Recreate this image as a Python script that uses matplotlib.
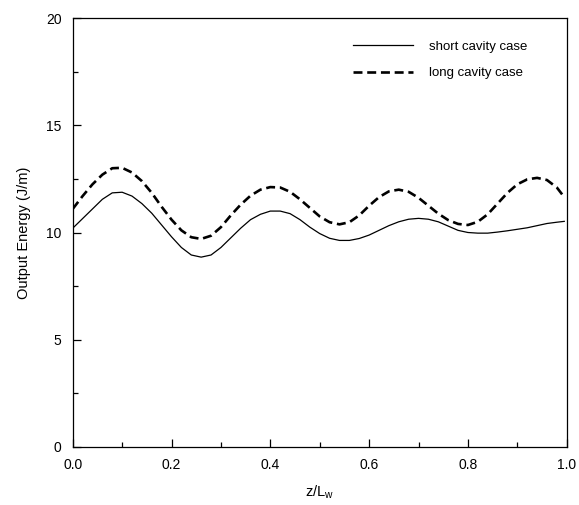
import matplotlib

matplotlib.use("Agg")
import matplotlib.pyplot as plt
from matplotlib.ticker import MultipleLocator

plt.rcParams["font.family"] = ["Liberation Sans", "DejaVu Sans"]

# values, every 0.02 in z/Lw
z = [0.00, 0.02, 0.04, 0.06, 0.08, 0.10, 0.12, 0.14, 0.16, 0.18,
     0.20, 0.22, 0.24, 0.26, 0.28, 0.30, 0.32, 0.34, 0.36, 0.38,
     0.40, 0.42, 0.44, 0.46, 0.48, 0.50, 0.52, 0.54, 0.56, 0.58,
     0.60, 0.62, 0.64, 0.66, 0.68, 0.70, 0.72, 0.74, 0.76, 0.78,
     0.80, 0.82, 0.84, 0.86, 0.88, 0.90, 0.92, 0.94, 0.96, 0.98, 0.995]
e_short = [10.2, 10.65, 11.1, 11.55, 11.85, 11.88, 11.7, 11.35, 10.9, 10.35,
           9.8, 9.3, 8.95, 8.85, 8.95, 9.3, 9.75, 10.2, 10.6, 10.85,
           11.0, 11.0, 10.88, 10.6, 10.25, 9.95, 9.73, 9.63, 9.63, 9.72,
           9.88, 10.1, 10.32, 10.5, 10.62, 10.66, 10.62, 10.5, 10.3, 10.1,
           10.0, 9.97, 9.97, 10.02, 10.08, 10.15, 10.22, 10.32, 10.42, 10.48, 10.52]
e_long = [11.1, 11.7, 12.25, 12.7, 13.0, 13.02, 12.8, 12.4, 11.85, 11.2,
          10.6, 10.1, 9.78, 9.7, 9.85, 10.25, 10.8, 11.3, 11.72, 12.0,
          12.12, 12.1, 11.9, 11.55, 11.15, 10.75, 10.48, 10.38, 10.48, 10.8,
          11.25, 11.65, 11.92, 12.0, 11.9, 11.62, 11.25, 10.88, 10.58, 10.4,
          10.35, 10.5, 10.85, 11.35, 11.85, 12.25, 12.48, 12.55, 12.45, 12.1, 11.65]

labels = ["short cavity case", "long cavity case"]

fig = plt.figure(figsize=(5.79, 5.05), dpi=100)
ax = fig.add_axes([0.1256, 0.1154, 0.8532, 0.8484])

ax.plot(z, e_short, color="black", lw=0.9, label=labels[0])
ax.plot(z, e_long, color="black", lw=1.9, dashes=(3.4, 1.8), label=labels[1])

ax.set_xlim(0, 1.0)
ax.set_ylim(0, 20)
ax.xaxis.set_major_locator(MultipleLocator(0.2))
ax.xaxis.set_minor_locator(MultipleLocator(0.1))
ax.yaxis.set_major_locator(MultipleLocator(5))
ax.yaxis.set_minor_locator(MultipleLocator(2.5))
ax.xaxis.set_major_formatter(lambda v, p: f"{v:.1f}")
ax.tick_params(which="both", direction="in", top=False, right=False, labelsize=10, width=0.9)
ax.tick_params(which="major", length=6, pad=8)
ax.tick_params(which="minor", length=3.5)
for s in ax.spines.values():
    s.set_linewidth(0.9)

ax.set_xlabel("z/L$_\\mathregular{w}$", fontsize=10.5, labelpad=8)
ax.set_ylabel("Output Energy (J/m)", fontsize=10.5, labelpad=11)

ax.legend(loc="upper right", bbox_to_anchor=(0.945, 0.975), frameon=False, fontsize=9.5,
          handlelength=4.6, handletextpad=1.2, labelspacing=1.05)

fig.savefig("out.png", dpi=100)
